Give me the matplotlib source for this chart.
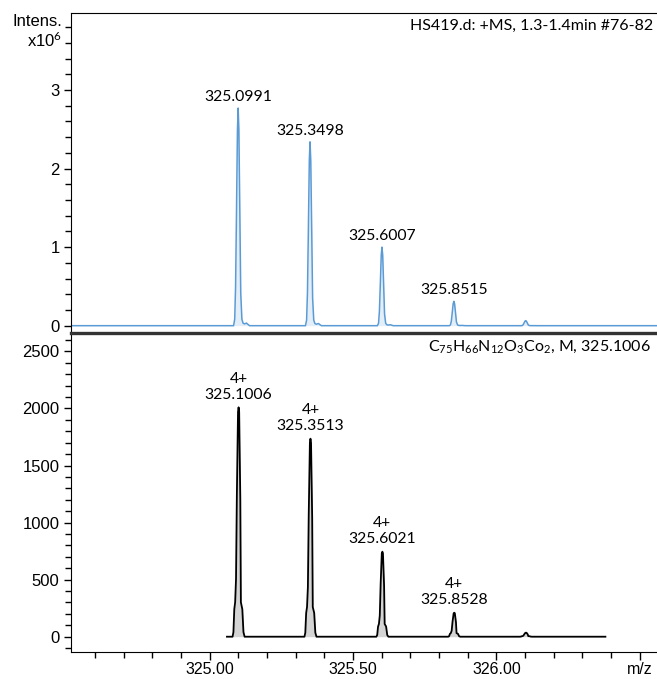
import matplotlib
matplotlib.use("Agg")
import matplotlib.pyplot as plt
from matplotlib.ticker import MultipleLocator, FixedLocator, FixedFormatter

plt.rcParams["mathtext.fontset"] = "custom"
plt.rcParams["mathtext.rm"] = "Lato"
plt.rcParams["mathtext.it"] = "Lato:italic"

# measured spectrum (top): peak centres (m/z) and intensities
meas_mz = [325.0991, 325.3498, 325.6007, 325.8515, 326.102]
meas_int = [2.77e6, 2.34e6, 1.00e6, 0.31e6, 0.064e6]
meas_labels = ["325.0991", "325.3498", "325.6007", "325.8515", None]

# simulated isotope pattern (bottom)
sim_mz = [325.1006, 325.3513, 325.6021, 325.8528, 326.103]
sim_int = [2010, 1735, 745, 210, 35]
sim_labels = ["4+\n325.1006", "4+\n325.3513", "4+\n325.6021", "4+\n325.8528", None]

# peak outlines: (m/z offset, fraction of peak height)
meas_shape_dx = [-0.016, -0.012, -0.009, -0.006, -0.0025, 0.0, 0.0025, 0.006,
                 0.009, 0.013, 0.017, 0.022, 0.029, 0.035, 0.040]
meas_shape_h = [0.0, 0.03, 0.18, 0.5, 0.9, 1.0, 0.9, 0.5,
                0.15, 0.03, 0.012, 0.008, 0.012, 0.005, 0.0]
sim_shape_dx = [-0.021, -0.018, -0.015, -0.012, -0.009, -0.006, -0.002, 0.0,
                0.002, 0.006, 0.008, 0.013, 0.017, 0.021]
sim_shape_h = [0.0, 0.02, 0.12, 0.15, 0.25, 0.62, 0.98, 1.0,
               0.98, 0.6, 0.15, 0.12, 0.02, 0.0]

XMIN, XMAX = 324.515, 326.56
SIM_START, SIM_END = 325.06, 326.38

TEXT_FONT = ["Lato", "DejaVu Sans"]
TICK_FONT = "Liberation Sans"


def trace(centres, heights, dx, h, start, end):
    xs, ys = [start], [0.0]
    for c, a in zip(centres, heights):
        for d, r in zip(dx, h):
            xs.append(c + d)
            ys.append(a * r)
    xs.append(end)
    ys.append(0.0)
    return xs, ys


fig = plt.figure(figsize=(6.57, 6.79), dpi=100)
W, H = 657, 679
left = 70.7 / W
ax1 = fig.add_axes([left, 1 - 333 / H, 1 - left, (333 - 13) / H])
ax2 = fig.add_axes([left, 1 - 652 / H, 1 - left, (652 - 333) / H])

# --- top: measured spectrum ---
mx, my = trace(meas_mz, meas_int, meas_shape_dx, meas_shape_h, XMIN, XMAX)
ax1.fill_between(mx, my, 0, color="#e3eef8", lw=0)
ax1.plot(mx, my, color="#5b9bd5", lw=1.1)
for c, a, lab in zip(meas_mz, meas_int, meas_labels):
    if lab:
        ax1.annotate(lab, (c, a), xytext=(0, 3), textcoords="offset points",
                     ha="center", va="bottom", fontsize=11.3, family=TEXT_FONT)
ax1.set_xlim(XMIN, XMAX)
ax1.set_ylim(-0.093e6, 3.98e6)
ax1.set_xticks([])
ax1.yaxis.set_major_locator(FixedLocator([0, 1e6, 2e6, 3e6]))
ax1.yaxis.set_major_formatter(FixedFormatter(["0", "1", "2", "3"]))
ax1.yaxis.set_minor_locator(MultipleLocator(0.2e6))
ax1.spines["right"].set_visible(False)
ax1.spines["bottom"].set_visible(False)
ax1.text(0.993, 0.961, "HS419.d: +MS, 1.3-1.4min #76-82", transform=ax1.transAxes,
         ha="right", va="center", fontsize=11.5, family=TEXT_FONT)

# --- bottom: simulated pattern ---
sx, sy = trace(sim_mz, sim_int, sim_shape_dx, sim_shape_h, SIM_START, SIM_END)
ax2.fill_between(sx, sy, 0, color="#d4d4d4", lw=0)
ax2.plot(sx, sy, color="black", lw=1.3)
for c, a, lab in zip(sim_mz, sim_int, sim_labels):
    if lab:
        ax2.annotate(lab, (c, a), xytext=(0, 4), textcoords="offset points",
                     ha="center", va="bottom", fontsize=11.3, family=TEXT_FONT,
                     linespacing=1.2)
ax2.set_xlim(XMIN, XMAX)
ax2.set_ylim(-134, 2661)
ax2.yaxis.set_major_locator(MultipleLocator(500))
ax2.yaxis.set_minor_locator(MultipleLocator(100))
ax2.xaxis.set_major_locator(FixedLocator([325.0, 325.5, 326.0, 326.5]))
ax2.xaxis.set_major_formatter(FixedFormatter(["325.00", "325.50", "326.00", "m/z"]))
ax2.xaxis.set_minor_locator(MultipleLocator(0.1))
ax2.spines["right"].set_visible(False)
ax2.spines["top"].set_linewidth(2.4)
ax2.spines["top"].set_color("#333333")
ax2.text(0.99, 0.958,
         r"C$_{75}$H$_{66}$N$_{12}$O$_{3}$Co$_{2}$, M, 325.1006",
         transform=ax2.transAxes, ha="right", va="center", fontsize=11.5,
         family=TEXT_FONT)

for ax in (ax1, ax2):
    ax.tick_params(axis="y", which="major", direction="out", length=5, width=1,
                   labelsize=12, pad=3)
    ax.tick_params(axis="y", which="minor", direction="out", length=4, width=1)
    for lab in ax.get_yticklabels():
        lab.set_family(TICK_FONT)
    ax.patch.set_alpha(0)

ax2.tick_params(axis="x", which="major", direction="out", length=6, width=1,
                labelsize=11.5, pad=1.5)
ax2.tick_params(axis="x", which="minor", direction="out", length=4, width=1)
for lab in ax2.get_xticklabels():
    lab.set_family(TICK_FONT)

fig.text(62 / W, 1 - 21 / H, "Intens.", ha="right", va="center",
         fontsize=12, family=TICK_FONT)
fig.text(62 / W, 1 - 47 / H, "x10$^6$", ha="right", va="baseline",
         fontsize=12, family=TICK_FONT)

fig.savefig("out.png", dpi=100)
